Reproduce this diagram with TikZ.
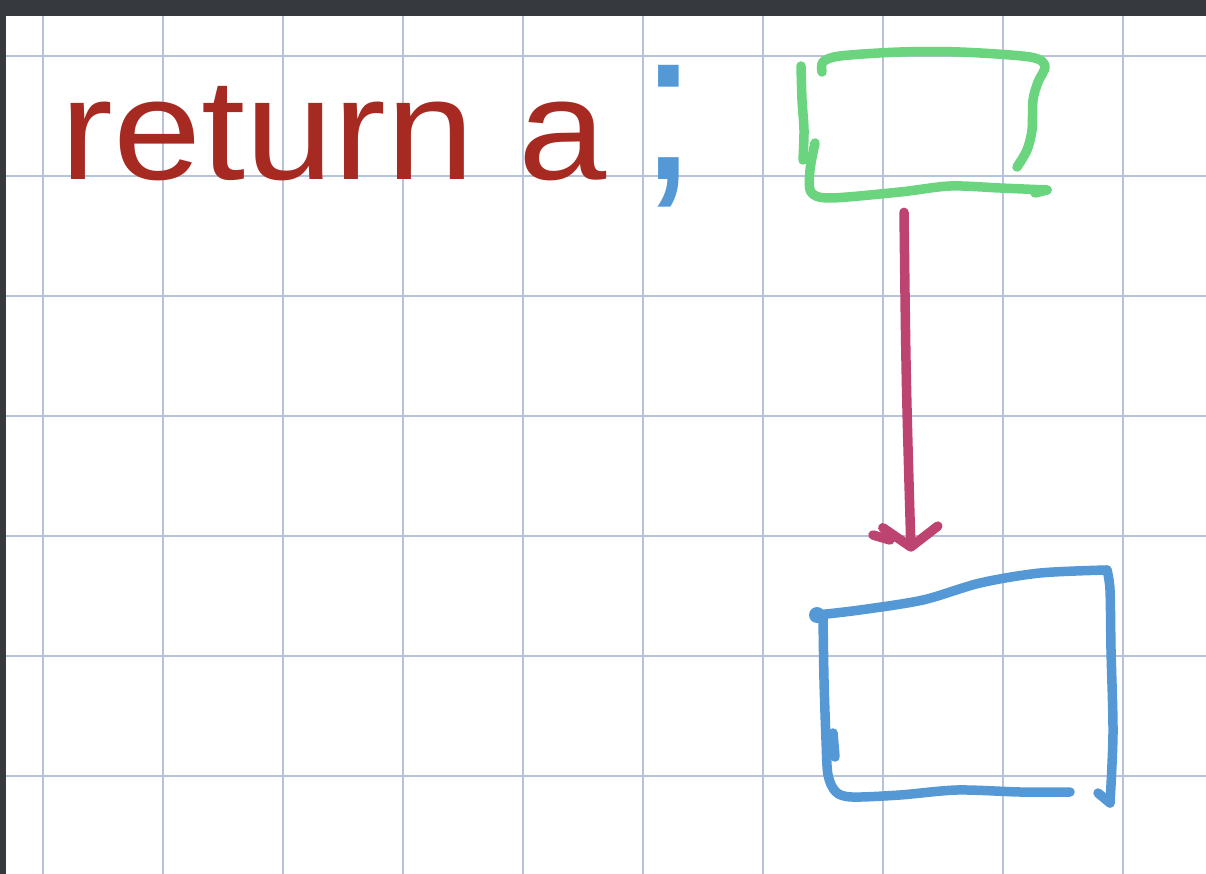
\documentclass[tikz,border=0pt]{standalone}
\usepackage{fontspec}
\setmainfont{Liberation Sans}
\usepackage{graphicx}
\usetikzlibrary{arrows.meta,positioning}
\definecolor{barcol}{HTML}{36393E}
\definecolor{gridcol}{HTML}{B7C3DB}
\definecolor{retred}{HTML}{A62A22}
\definecolor{semiblue}{HTML}{5499D6}
\definecolor{boxgreen}{HTML}{6AD47E}
\definecolor{ptrpink}{HTML}{BD4470}

\begin{document}
\begin{tikzpicture}[x=0.02cm,y=-0.02cm,
	gridline/.style={gridcol,line width=0.03cm},
	pen/.style={line width=0.19cm,line cap=round,line join=round},
	greenpen/.style={pen,boxgreen},
	bluepen/.style={pen,semiblue},
	ptr/.style={pen,ptrpink,-{Straight Barb[round,length=0.4cm,width=1.1cm]}},
	spot/.style={minimum width=4cm,inner sep=0pt,draw=none}]
	\useasboundingbox (0,0) rectangle (1206,874);
	\fill[white] (0,0) rectangle (1206,874);
	\fill[barcol] (0,0) rectangle (1206,16);
	\fill[barcol] (0,0) rectangle (6,874);
	\foreach \x in {43,163,...,1123}
		\draw[gridline] (\x,16) -- (\x,874);
	\foreach \y in {56,176,...,776}
		\draw[gridline] (6,\y) -- (1206,\y);
	
	\node[anchor=base west,inner sep=0pt,text=retred,font=\fontsize{82}{82}\selectfont] (retstmt) at (60,180) {\scalebox{1.1}[1]{return a}};
	\node[anchor=base west,inner sep=0pt,text=semiblue,font=\fontsize{123}{123}\selectfont] (semi) at (638,180) {;};
	
	\node[spot,minimum height=3.12cm] (valbox) at (904,134) {};
	\node[spot,minimum width=5.6cm,minimum height=4.92cm] (retbox) at (911,675) {};
	
	\draw[greenpen] plot[smooth] coordinates {(801,66) (802,100) (804,130) (803,160)};
	\draw[greenpen] plot[smooth] coordinates {(815,143) (810,170) (811,192) (830,198) (900,192) (950,186) (1000,188) (1047,190)};
	\draw[greenpen] (1035,193) -- (1047,190);
	\draw[greenpen] plot[smooth] coordinates {(822,72) (823,62) (840,56) (900,52) (960,52) (1030,57) (1045,66) (1038,82) (1033,100) (1032,130) (1027,150) (1017,167)};
	
	\draw[bluepen] plot[smooth] coordinates {(817,615) (860,610) (923,600) (980,583) (1040,573) (1107,570)};
	\draw[bluepen] plot[smooth] coordinates {(1107,570) (1110,590) (1111,650) (1113,733) (1110,803)};
	\draw[bluepen] (1098,793) -- (1110,803);
	\draw[bluepen] plot[smooth] coordinates {(823,617) (824,680) (826,740) (828,775) (836,792) (852,797) (900,795) (957,790) (1020,792) (1070,792)};
	\draw[bluepen] (833,733) -- (835,757);
	\fill[semiblue] (817,615) circle (8);
	
	\draw[ptr] (valbox.south) .. controls (906,380) .. (retbox.north);
	\draw[pen,ptrpink] (873,535) -- (890,540);
\end{tikzpicture}
\end{document}
